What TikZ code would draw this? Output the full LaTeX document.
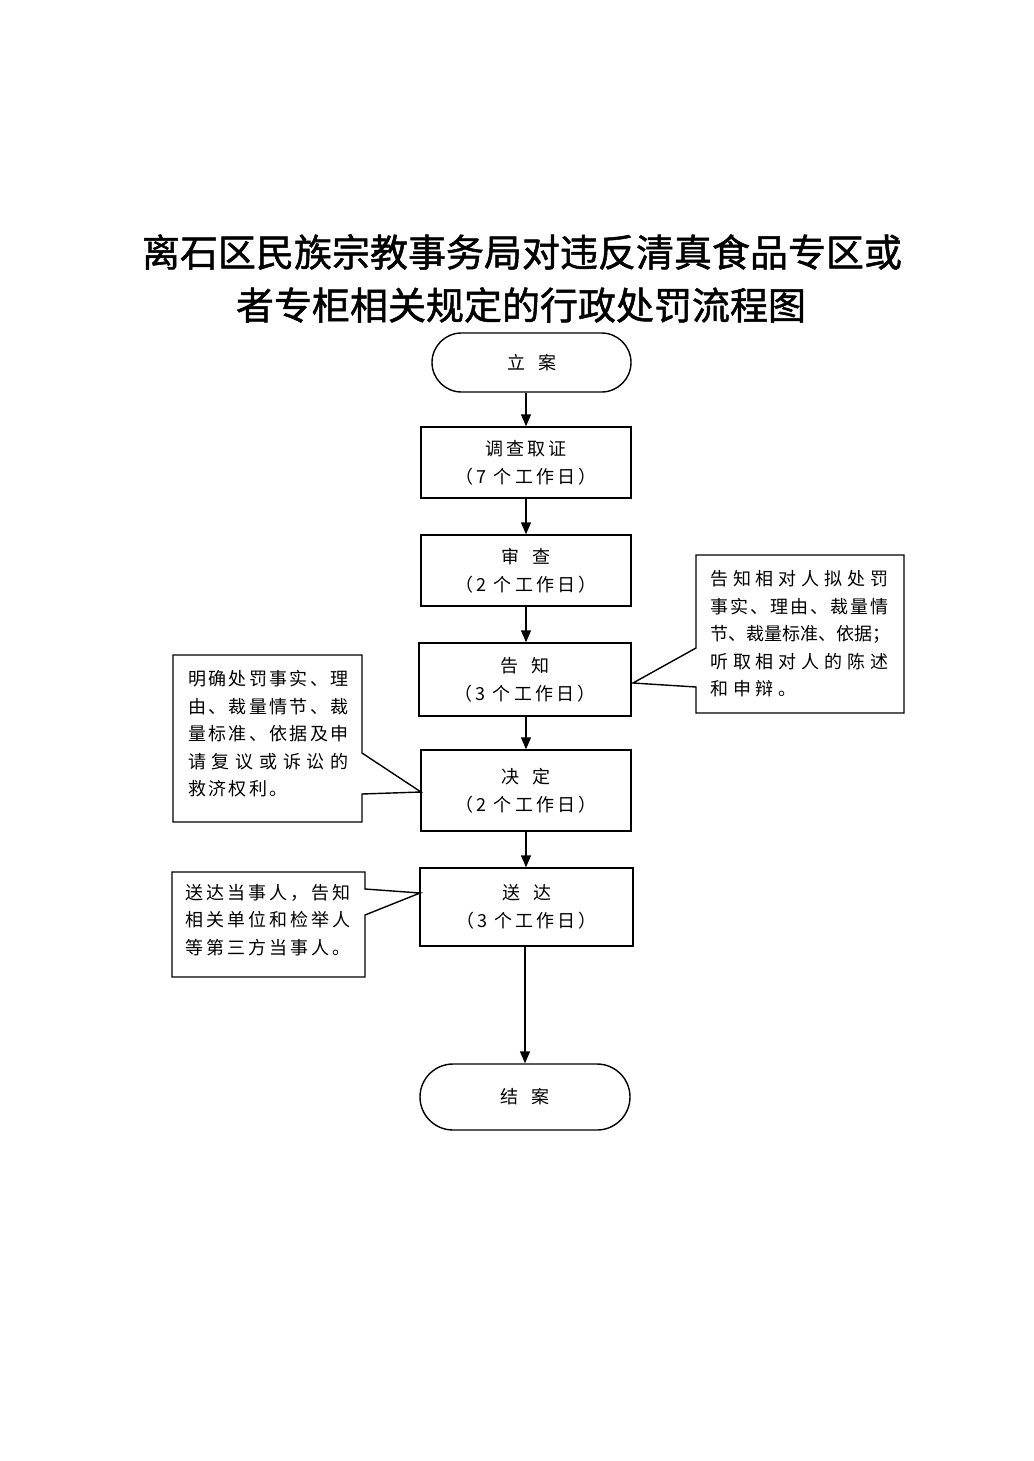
\documentclass[tikz,border=0pt]{standalone}
\usepackage{fontspec}
\setmainfont{Noto Sans CJK SC}
\newfontfamily\titlefont[FakeBold=1.3]{Noto Sans CJK SC}
\usetikzlibrary{arrows.meta,shapes.misc}
\newcommand\mygap{\hspace{13pt}}
\newcommand\ls[2]{{\addfontfeature{LetterSpace=#1}#2}}
\tikzset{
  line/.style={line width=1.4pt, line join=miter},
  arr/.style={line width=1.4pt, -{Triangle[length=12pt,width=10pt]}},
  flowbox/.style={draw, line width=1.4pt, rectangle, align=center, inner sep=0pt,
    font=\fontsize{18pt}{28pt}\selectfont\addfontfeature{LetterSpace=17}},
  stadium/.style={draw, line width=1.4pt, rounded rectangle, inner sep=0pt,
    font=\fontsize{18pt}{28pt}\selectfont},
  note/.style={align=left, inner sep=0pt, font=\fontsize{18pt}{27.5pt}\selectfont},
  titletext/.style={inner sep=0pt, font=\titlefont\fontsize{38pt}{46pt}\selectfont},
}
\begin{document}
\begin{tikzpicture}[x=1pt,y=-1pt]
\useasboundingbox (0,0) rectangle (1033,1461);
\fill[white] (0,0) rectangle (1033,1461);

% title
\node[titletext] (t1) at (522,252) {离石区民族宗教事务局对违反清真食品专区或};
\node[titletext] (t2) at (521,305) {者专柜相关规定的行政处罚流程图};

% flow nodes
\node[stadium, minimum width=199pt, minimum height=59pt] (n1) at (531.5,362.5) {立\mygap 案};
\node[flowbox, minimum width=210pt, minimum height=71pt] (n2) at (526,462.5) {调查取证\\（7 个工作日）};
\node[flowbox, minimum width=210pt, minimum height=71pt] (n3) at (526,570.5) {审\mygap 查\\（2 个工作日）};
\node[flowbox, minimum width=212pt, minimum height=73pt] (n4) at (525,679.5) {告\mygap 知\\（3 个工作日）};
\node[flowbox, minimum width=210pt, minimum height=81pt] (n5) at (526,790.5) {决\mygap 定\\（2 个工作日）};
\node[flowbox, minimum width=213pt, minimum height=78pt] (n6) at (526.5,907) {送\mygap 达\\（3 个工作日）};
\node[stadium, minimum width=210pt, minimum height=66pt] (n7) at (525,1097) {结\mygap 案};

% arrows
\draw[arr] (n2.north |- n1.south) -- (n2.north);
\draw[arr] (n2.south) -- (n3.north);
\draw[arr] (n3.south) -- (n4.north -| n3.south);
\draw[arr] (n4.south -| n5.north) -- (n5.north);
\draw[arr] (n5.south) -- (n6.north -| n5.south);
\draw[arr] (n6.south -| n7.north) -- (n7.north);

% callout 1 (left, to 决定)
\coordinate (p1) at (421,792);
\draw[line] (173,655) -- (362,655) -- (362,753) -- (p1) -- (362,794) -- (362,822) -- (173,822) -- cycle;
\node[note, anchor=west] (c1) at (188,734)
  {\ls{13}{明确处罚事实、理}\\\ls{13}{由、裁量情节、裁}\\\ls{13}{量标准、依据及申}\\\ls{32}{请复议或诉讼的}\\\ls{13}{救济权利。}};

% callout 2 (right, to 告知)
\coordinate (p2) at (633,683);
\draw[line] (696,555) -- (904,555) -- (904,713) -- (696,713) -- (696,687) -- (p2) -- (696,648) -- cycle;
\node[note, anchor=west] (c2) at (710,634)
  {\ls{27}{告知相对人拟处罚}\\\ls{11}{事实、理由、裁量情}\\\ls{0}{节、裁量标准、依据；}\\\ls{27}{听取相对人的陈述}\\\ls{27}{和申辩。}};

% callout 3 (left, to 送达)
\coordinate (p3) at (420,893);
\draw[line] (172,872) -- (365,872) -- (365,889) -- (p3) -- (365,915) -- (365,977) -- (172,977) -- cycle;
\node[note, anchor=west] (c3) at (185,920)
  {\ls{17}{送达当事人，告知}\\\ls{17}{相关单位和检举人}\\\ls{17}{等第三方当事人。}};
\end{tikzpicture}
\end{document}
